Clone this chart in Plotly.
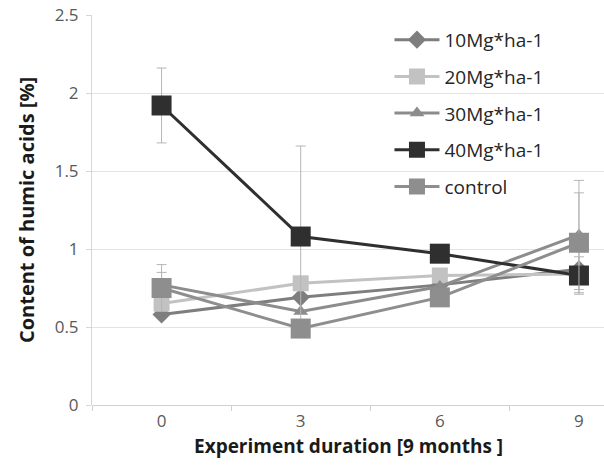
import plotly.graph_objects as go

categories = ["0", "3", "6", "9"]
series_names = ["10Mg*ha-1", "20Mg*ha-1", "30Mg*ha-1", "40Mg*ha-1", "control"]
v10 = [0.58, 0.69, 0.77, 0.87]
v20 = [0.65, 0.78, 0.83, 0.84]
v30 = [0.77, 0.60, 0.76, 1.09]
v40 = [1.92, 1.08, 0.97, 0.83]
vctrl = [0.75, 0.49, 0.69, 1.04]
e10 = [0, 0, 0, 0]
e20 = [0, 0, 0, 0]
e30 = [0.08, 0, 0, 0.35]
e40 = [0.24, 0.58, 0, 0.12]
ectrl = [0.15, 0, 0, 0.32]
x_title = "Experiment duration [9 months ]"
y_title = "Content of humic acids [%]"

values = [v10, v20, v30, v40, vctrl]
errors = [e10, e20, e30, e40, ectrl]
colors = ["#7e7e7e", "#c2c2c2", "#8c8c8c", "#2f2f2f", "#8e8e8e"]
symbols = ["diamond", "square", "triangle-up", "square", "square"]
sizes = [14, 16, 13, 20, 20]

FONT = "Open Sans"
xpos = list(range(len(categories)))

fig = go.Figure()
for name, v, e, c, s, sz in zip(series_names, values, errors, colors, symbols, sizes):
    fig.add_trace(go.Scatter(
        x=xpos, y=v, name=name, mode="lines+markers",
        line=dict(color=c, width=3),
        marker=dict(symbol=s, size=sz, color=c, line=dict(width=0)),
        error_y=dict(type="data", array=e, visible=True, color="#b5b5b5",
                     thickness=1, width=5),
        legendgroup=name,
    ))

fig.add_annotation(
    text="<b>" + x_title + "</b>", xref="paper", yref="paper",
    x=0.5, y=-0.105, xanchor="center", yanchor="middle", showarrow=False,
    font=dict(family=FONT, size=19, color="#1a1a1a"),
)

fig.update_layout(
    width=604, height=465,
    margin=dict(l=92, r=0, t=15, b=60),
    paper_bgcolor="white", plot_bgcolor="white",
    font=dict(family=FONT, size=17, color="#595959"),
    legend=dict(x=0.581, y=0.985, xanchor="left", yanchor="top",
                bgcolor="rgba(0,0,0,0)", tracegroupgap=9, itemwidth=45,
                font=dict(family=FONT, size=19, color="#262626")),
    xaxis=dict(
        range=[-0.5, 3.18], tickvals=xpos, ticktext=categories,
        showgrid=False, zeroline=False, showline=False, ticks="",
        minor=dict(tick0=0.5, dtick=1, ticks="outside", ticklen=5,
                   tickcolor="#d0d0d0", showgrid=False),
        ticklabelstandoff=4,
        tickfont=dict(family=FONT, size=17, color="#595959"),
    ),
    yaxis=dict(
        range=[0, 2.5], dtick=0.5, tick0=0,
        showgrid=True, gridcolor="#e3e3e3", gridwidth=1,
        zeroline=True, zerolinecolor="#d0d0d0", zerolinewidth=1,
        showline=True, linecolor="#d6d6d6", linewidth=1,
        ticks="outside", ticklen=5, tickcolor="#d6d6d6",
        ticklabelstandoff=4,
        title=dict(text="<b>" + y_title + "</b>",
                   font=dict(family=FONT, size=20, color="#1a1a1a"), standoff=14),
        tickfont=dict(family=FONT, size=17, color="#595959"),
    ),
)

fig.write_html("out.html")
